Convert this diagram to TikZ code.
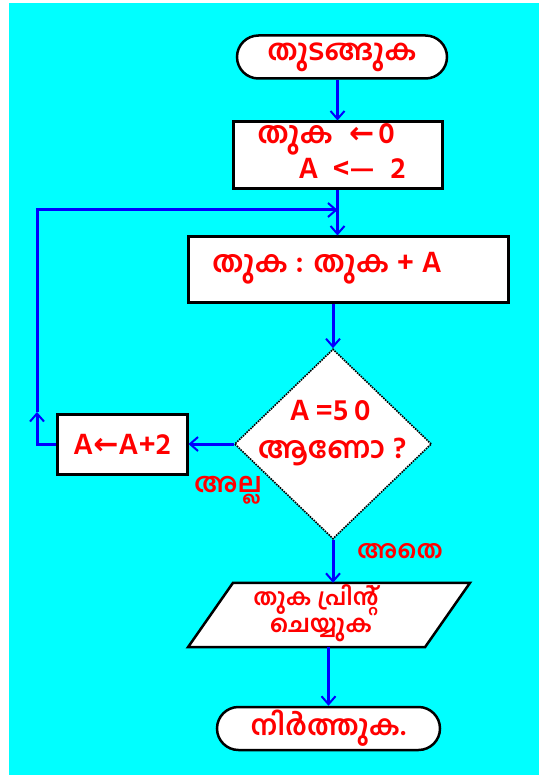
\documentclass[tikz,border=0pt]{standalone}
\usepackage{fontspec}
\newfontfamily\ml[Script=Malayalam]{Hind Kochi}
\newfontfamily\sym{DejaVu Sans}
\usetikzlibrary{shapes.geometric,shapes.misc,arrows.meta}
\definecolor{bg}{RGB}{0,255,255}
\definecolor{ln}{RGB}{0,0,255}
\definecolor{tx}{RGB}{255,0,0}
\begin{document}
\begin{tikzpicture}[x=1pt,y=-1pt,
  txt/.style={text=tx,font=\ml\bfseries\fontsize{#1}{#1}\selectfont,inner sep=0pt},
  txt/.default=30,
  term/.style={rounded rectangle,draw=black,line width=2.5pt,fill=white,inner sep=0pt},
  box/.style={rectangle,draw=black,line width=3pt,fill=white,inner sep=0pt},
  flow/.style={draw=ln,line width=3pt},
  arr/.style={-{Straight Barb[length=8pt,width=14pt,line width=2pt]}}]
\useasboundingbox (0,0) rectangle (539,775);
\fill[bg] (9,3) rectangle (539,775);
% shapes
\node[term,minimum width=210pt,minimum height=43pt] (start) at (342,57) {};
\node[box,minimum width=209pt,minimum height=67pt] (b1) at (337.5,155.5) {};
\node[box,minimum width=320pt,minimum height=65pt] (b2) at (348,269.5) {};
\node[diamond,draw=black,densely dotted,line width=1.6pt,fill=white,minimum width=197pt,minimum height=190pt,inner sep=0pt] (dec) at (333,444) {};
\node[box,minimum width=130pt,minimum height=60pt] (inc) at (122,444) {};
\node[rectangle,minimum width=237pt,minimum height=64pt,inner sep=0pt] (pr) at (329,615) {};
\draw[black,line width=2.5pt,fill=white,line join=miter]
  ([xshift=-96pt]pr.north) -- ([xshift=141pt]pr.north) -- ([xshift=96pt]pr.south) -- ([xshift=-141pt]pr.south) -- cycle;
\node[term,minimum width=223pt,minimum height=43pt] (st) at (328.5,728.5) {};
% texts
\node[txt=29] (t0) at (start) {തുടങ്ങുക};
\node[txt] (t1a) at (326,139) {തുക\hspace{16pt}{\sym\bfseries ←}\hspace{4pt}0};
\node[txt] (t1b) at (352,168) {A\hspace{14pt}<—\hspace{16pt}2};
\node[txt] (t2) at (327,268) {തുക : തുക + A};
\node[txt] (t3a) at (330,411) {A\hspace{6pt}=5\hspace{6pt}0};
\node[txt] (t3b) at (332,452) {ആണോ ?};
\node[txt=30] (t4) at (inc) {A{\sym\bfseries ←}A+2};
\node[txt=27] (tno) at (228,490) {അല്ല};
\node[txt=25] (tyes) at (400,551) {അതെ};
\node[txt=23] (t5a) at (316,600) {തുക പ്രിന്റ്};
\node[txt=24] (t5b) at (321,630) {ചെയ്യുക};
\node[txt=28] (t6) at (st) {നിർത്തുക.};
% loop coordinates
\coordinate (lpa) at (37,412);
\coordinate (lp2) at (37,210);
\coordinate (lp3) at (b1.south |- lp2);
% connectors
\draw[flow,arr] (start.south -| b1.north) -- (b1.north);
\draw[flow,arr] (b1.south) -- (b1.south |- b2.north);
\draw[flow,arr] (b2.south -| dec.north) -- (dec.north);
\draw[flow,arr] (dec.west) -- (inc.east);
\draw[flow,arr] (inc.west) -- (inc.west -| lp2) -- (lpa);
\draw[flow,arr] (lpa) -- (lp2) -- (lp3);
\draw[flow,arr] (dec.south) -- (dec.south |- pr.north);
\draw[flow,arr] (pr.south -| st.north) -- (st.north);
\end{tikzpicture}
\end{document}
